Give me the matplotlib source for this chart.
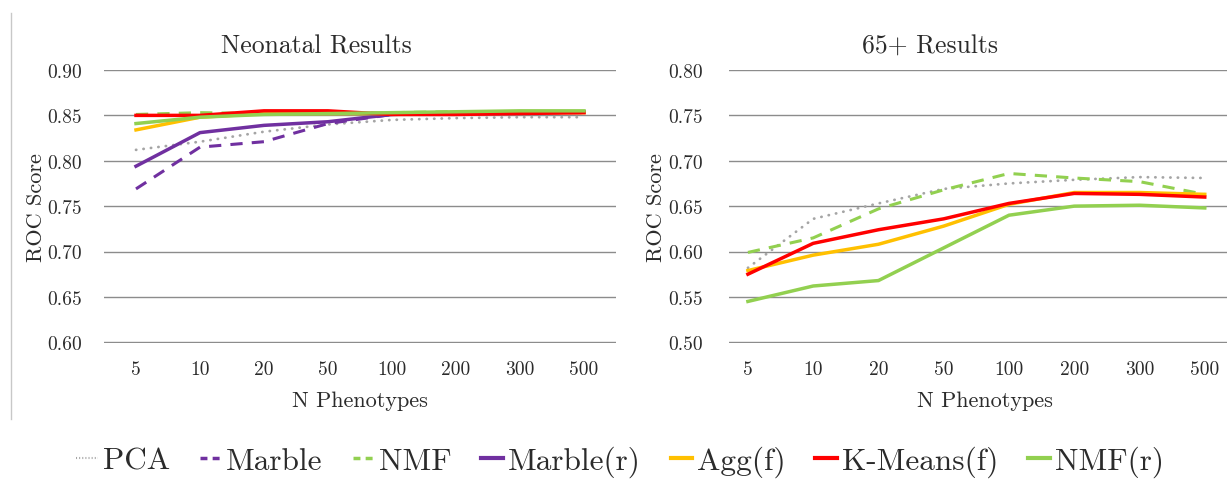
import numpy as np
import matplotlib
matplotlib.use('Agg')
import matplotlib.pyplot as plt
from matplotlib.lines import Line2D

plt.rcParams['font.family'] = 'cmr10'
plt.rcParams['mathtext.fontset'] = 'cm'
plt.rcParams['axes.unicode_minus'] = False

# categories
n_pheno = ['5', '10', '20', '50', '100', '200', '300', '500']

# Neonatal results
neo_pca = [0.812, 0.821, 0.832, 0.840, 0.845, 0.847, 0.848, 0.848]
neo_marble = [0.769, 0.815, 0.821, 0.841, 0.851, 0.853, 0.853, 0.853]
neo_nmf = [0.851, 0.853, 0.852, 0.852, 0.853, 0.854, 0.854, 0.854]
neo_marble_r = [0.794, 0.831, 0.839, 0.843, 0.851, 0.853, 0.854, 0.854]
neo_agg_f = [0.834, 0.848, 0.852, 0.852, 0.852, 0.853, 0.853, 0.853]
neo_kmeans_f = [0.850, 0.850, 0.855, 0.855, 0.851, 0.851, 0.852, 0.853]
neo_nmf_r = [0.841, 0.848, 0.851, 0.852, 0.853, 0.854, 0.855, 0.855]

# 65+ results
old_pca = [0.582, 0.636, 0.653, 0.669, 0.675, 0.679, 0.682, 0.681]
old_nmf = [0.599, 0.615, 0.647, 0.668, 0.686, 0.681, 0.677, 0.663]
old_agg_f = [0.579, 0.596, 0.608, 0.628, 0.652, 0.665, 0.665, 0.663]
old_kmeans_f = [0.575, 0.609, 0.624, 0.636, 0.653, 0.664, 0.663, 0.660]
old_nmf_r = [0.545, 0.562, 0.568, 0.604, 0.640, 0.650, 0.651, 0.648]

grey = '#a5a5a5'
purple = '#7030a0'
green = '#92d050'
yellow = '#ffc000'
red = '#ff0000'
txt = '#2b2b2b'

dotted = dict(color=grey, lw=2.0, ls=(0, (0.1, 2.6)), dash_capstyle='round')
dashed_p = dict(color=purple, lw=2.2, ls=(0, (4, 3)))
dashed_g = dict(color=green, lw=2.2, ls=(0, (4, 3)))

W, H = 1227, 481
fig = plt.figure(figsize=(W / 100, H / 100), dpi=100)
# axes boxes in pixels: left, top, right, bottom
ax1 = fig.add_axes([104 / W, 1 - 344 / H, (616 - 104) / W, (344 - 71) / H])
ax2 = fig.add_axes([729 / W, 1 - 344 / H, (1240 - 729) / W, (344 - 71) / H])

x = np.arange(len(n_pheno))

ax1.plot(x, neo_pca, **dotted)
ax1.plot(x, neo_marble, **dashed_p)
ax1.plot(x, neo_nmf, **dashed_g)
ax1.plot(x, neo_marble_r, color=purple, lw=2.5)
ax1.plot(x, neo_agg_f, color=yellow, lw=2.5)
ax1.plot(x, neo_kmeans_f, color=red, lw=2.5)
ax1.plot(x, neo_nmf_r, color=green, lw=2.5)

ax2.plot(x, old_pca, **dotted)
ax2.plot(x, old_nmf, **dashed_g)
ax2.plot(x, old_agg_f, color=yellow, lw=2.5)
ax2.plot(x, old_kmeans_f, color=red, lw=2.5)
ax2.plot(x, old_nmf_r, color=green, lw=2.5)

ax1.set_xlim(-0.5, 7.5)
ax2.set_xlim(-0.29, 7.54)

for ax, lo in [(ax1, 0.60), (ax2, 0.50)]:
    ticks = np.round(np.arange(lo, lo + 0.301, 0.05), 2)
    ax.set_ylim(lo - 0.0008, lo + 0.30)
    ax.set_yticks(ticks)
    ax.set_yticklabels(['%.2f' % t for t in ticks])
    ax.set_xticks(x)
    ax.set_xticklabels(n_pheno)
    ax.grid(axis='y', color='#8c8c8c', lw=1.0)
    ax.set_axisbelow(True)
    for s in ax.spines.values():
        s.set_visible(False)
    ax.tick_params(length=0, labelsize=14, labelcolor=txt)
    ax.tick_params(axis='x', pad=12)
    ax.set_ylabel('ROC Score', fontsize=16, color=txt, labelpad=1)
    ax.set_xlabel('N Phenotypes', fontsize=16, color=txt, labelpad=9)

ax1.tick_params(axis='y', pad=16)
ax2.tick_params(axis='y', pad=19)

# panel titles, centred on each panel rather than on the plot area
fig.text(316 / W, 1 - 54 / H, 'Neonatal Results', fontsize=18.5, color=txt,
         ha='center', va='baseline')
fig.text(930 / W, 1 - 54 / H, '65+ Results', fontsize=18.5, color=txt,
         ha='center', va='baseline')

# left frame line of the panel
fig.add_artist(Line2D([11 / W, 11 / W], [1 - 14 / H, 1 - 420 / H],
                      color='#c8c8c8', lw=1.0))

handles = [
    Line2D([], [], color=grey, lw=1.5, ls=(0, (0.5, 1.0))),
    Line2D([], [], color=purple, lw=2.5, ls=(0, (2.0, 1.5))),
    Line2D([], [], color=green, lw=2.5, ls=(0, (2.0, 1.5))),
    Line2D([], [], color=purple, lw=3),
    Line2D([], [], color=yellow, lw=3),
    Line2D([], [], color=red, lw=3),
    Line2D([], [], color=green, lw=3),
]
labels = ['PCA', 'Marble', 'NMF', 'Marble(r)', 'Agg(f)', 'K-Means(f)', 'NMF(r)']
fig.legend(handles, labels, loc='center', bbox_to_anchor=(620 / W, 1 - 462 / H),
           ncol=7, frameon=False, fontsize=22.5, handlelength=0.7,
           handletextpad=0.15, columnspacing=0.95, labelcolor=txt)

fig.savefig('out.png', dpi=100)
